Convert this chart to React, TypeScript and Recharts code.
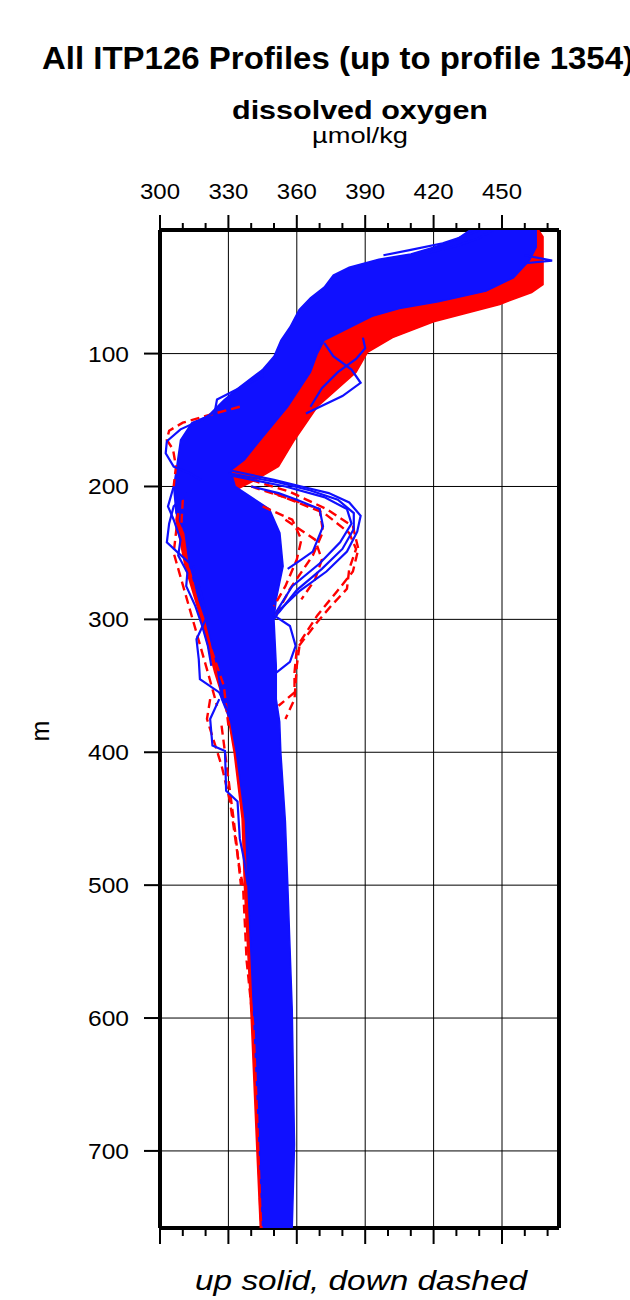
import { ScatterChart, Scatter, XAxis, YAxis, ReferenceLine } from 'recharts'

// every profile point is [depth m, dissolved oxygen µmol/kg]
type Pair = [number, number]

const FONT = '"Liberation Sans", Arial, Helvetica, sans-serif'
const BLUE = '#1010ff'
const RED = '#ff0000'

const xDomain = [300, 475]
const yDomain = [7, 758]
const xTicks = [300, 310, 320, 330, 340, 350, 360, 370, 380, 390, 400, 410, 420, 430, 440, 450, 460, 470]
const xMajor = [300, 330, 360, 390, 420, 450]
const yTicks = [100, 200, 300, 400, 500, 600, 700]

// envelopes of the dense bundles
const upLeft: Pair[] = [
  [7, 436], [14, 430], [20, 420], [25, 410], [29, 396], [35, 383], [41, 376], [50, 372], [58, 366],
  [67, 361], [80, 357], [90, 353], [102, 350], [112, 345], [125, 335], [135, 328], [147, 321],
  [152, 314], [165, 309], [189, 307], [200, 306], [220, 307], [235, 311], [260, 313], [285, 317],
  [300, 320], [335, 325], [360, 327], [377, 331], [400, 333.5], [452, 337.5], [497, 338.5],
  [594, 341], [695, 343.5], [758, 345],
]
const upRight: Pair[] = [
  [7, 465], [20, 465], [30, 462], [43, 455], [53, 443], [61, 422], [66, 405], [72, 393], [78, 386],
  [90, 372], [100, 369], [114, 366], [140, 356], [165, 344], [180, 337], [188, 331], [200, 333],
  [217, 348], [235, 352.6], [260, 354], [285, 351], [300, 350], [335, 351], [360, 351], [377, 352.5],
  [400, 353], [452, 355], [497, 356], [594, 358], [695, 359], [758, 358],
]
const downLeft: Pair[] = [
  [7, 450], [30, 430], [50, 400], [70, 380], [100, 362], [130, 345], [150, 330], [170, 320],
  [190, 312], [200, 309], [225, 307], [260, 311], [300, 318], [340, 324], [370, 329.5], [400, 332.5],
  [450, 336], [500, 337], [600, 340], [700, 342.5], [758, 344],
]
const downRight: Pair[] = [
  [7, 466], [12, 468], [48, 468], [54, 463], [63, 449], [76, 420], [88, 402], [99, 391], [114, 386],
  [140, 369], [165, 359], [185, 352], [195, 342], [202, 334], [220, 345], [240, 350], [300, 348],
  [400, 352], [500, 355], [600, 357], [700, 358], [758, 357],
]

// single up (solid) profiles that stray from the bundle
const upBulgeA: Pair[] = [
  [188, 331], [195, 350], [200, 362], [205, 374], [212, 383], [222, 388], [234, 386.5], [249, 382],
  [264, 373], [279, 361], [292, 353], [300, 350],
]
const upBulgeB: Pair[] = [
  [190, 330], [197, 352], [203, 366], [210, 378], [220, 385], [232, 385], [247, 380], [262, 371],
  [278, 360], [295, 352],
]
const upBulgeC: Pair[] = [
  [192, 332], [200, 355], [208, 372], [217, 382], [228, 384], [242, 379], [258, 370], [275, 358],
  [297, 350], [305, 357], [320, 359.5], [332, 357], [340, 351],
]
const upBulgeD: Pair[] = [
  [200, 340], [205, 352], [210, 360], [217, 370], [230, 371.5], [249, 367], [255, 362], [262, 356],
]
const upLeftLoop: Pair[] = [
  [205, 312], [215, 306], [228, 304], [242, 303], [250, 308], [260, 314.5], [280, 318], [298, 320.6],
  [315, 316], [330, 317], [345, 317.5], [355, 326], [370, 330],
]
const upLeftDeep: Pair[] = [
  [360, 326], [375, 322], [395, 323], [399, 328.5], [429, 329], [437, 334], [465, 335], [482, 337],
  [500, 338.5],
]
const upUpperLoop: Pair[] = [
  [112, 345], [117, 345], [125, 336], [134.5, 325], [144, 324], [150, 318], [157, 309], [166, 303],
  [175, 302.5], [185, 306], [190, 313], [195, 318],
]
const upEdge: Pair[] = [
  [200, 306], [215, 303.5], [225, 306], [240, 309], [252, 308], [265, 312], [275, 311.5], [290, 315.5],
  [305, 318.5], [320, 321], [335, 322.5],
]
const upSpike: Pair[] = [[26, 460], [30, 472], [32, 460]]
const upWispA: Pair[] = [[7, 440], [12, 433], [17, 424], [22, 410], [26, 398]]
const upWispB: Pair[] = [[7, 446], [13, 440], [19, 430], [24, 418]]
const upNetA: Pair[] = [[88, 389], [96, 390], [104, 386], [114, 378], [126, 371], [140, 366]]
const upNetB: Pair[] = [[92, 372], [102, 376], [112, 384], [122, 388], [132, 380], [145, 364]]

// single down (dashed) profiles
const downBulgeA: Pair[] = [
  [192, 334], [204, 357], [217, 373], [230, 384.6], [247, 387], [264, 384.6], [279, 377.6], [297, 369],
  [317, 361.4], [335, 360], [360, 359], [375, 355],
]
const downBulgeB: Pair[] = [[200, 340], [210, 358], [217, 370], [234, 371.5], [252, 367], [277, 357], [300, 350]]
const downBulgeC: Pair[] = [
  [205, 350], [220, 372], [235, 383], [247, 386], [262, 383], [277, 382], [290, 375], [302, 369],
  [322, 360], [340, 359], [355, 359], [365, 352],
]
const downBulgeD: Pair[] = [[215, 345], [225, 358], [240, 362], [255, 360], [275, 355], [290, 350]]
const downBulgeE: Pair[] = [[225, 355], [240, 368], [255, 371], [270, 368], [285, 362]]
const downUpperLeft: Pair[] = [
  [140, 335], [146, 322], [152, 310], [158, 304], [165, 303], [172, 305.7], [185, 307], [200, 306],
]
const downLeftA: Pair[] = [[220, 308], [250, 306], [280, 311], [310, 316], [340, 321], [365, 325]]
const downLeftB: Pair[] = [[210, 310], [240, 309], [270, 314], [300, 318], [330, 324], [350, 328], [380, 330]]
const downLeftC: Pair[] = [[380, 327], [420, 330], [460, 333], [500, 335.5]]
const downLeftDeep: Pair[] = [
  [360, 322], [375, 320.6], [410, 327], [437, 330.7], [489, 335], [500, 336.4], [557, 338], [607, 341],
  [669, 342.5], [744, 344], [758, 344.5],
]

const toPts = (p: Pair[]) => p.map(([d, v]) => ({ x: v, y: d }))
const band = (left: Pair[], right: Pair[]) => toPts([...left, ...[...right].reverse()])

const upOutliers = [
  upBulgeA, upBulgeB, upBulgeC, upBulgeD, upLeftLoop, upLeftDeep, upUpperLoop, upEdge, upSpike,
  upWispA, upWispB, upNetA, upNetB,
]
const downOutliers = [
  downBulgeA, downBulgeB, downBulgeC, downBulgeD, downBulgeE, downUpperLeft, downLeftA, downLeftB,
  downLeftC, downLeftDeep,
]

const noDot = () => <g />

function TopTick(props: any) {
  const { x, y, payload } = props
  const major = xMajor.includes(payload.value)
  return (
    <g>
      <line x1={x} x2={x} y1={y} y2={y - (major ? 15 : 7)} stroke="#000" strokeWidth={2} />
      {major && (
        <text x={x} y={y - 31.5} textAnchor="middle" fontSize={22} fontFamily={FONT} fill="#000"
          textLength={40} lengthAdjust="spacingAndGlyphs">
          {payload.value}
        </text>
      )}
    </g>
  )
}

function BottomTick(props: any) {
  const { x, y, payload } = props
  const major = xMajor.includes(payload.value)
  return <line x1={x} x2={x} y1={y} y2={y + (major ? 16 : 8)} stroke="#000" strokeWidth={2} />
}

function LeftTick(props: any) {
  const { x, y, payload } = props
  return (
    <text x={x} y={y} dy="0.36em" textAnchor="end" fontSize={22} fontFamily={FONT} fill="#000"
      textLength={41} lengthAdjust="spacingAndGlyphs">
      {payload.value}
    </text>
  )
}

const axisLine = { stroke: '#000', strokeWidth: 4 }
const tickLine = { stroke: '#000', strokeWidth: 2 }

export default function App() {
  return (
    <div style={{ position: 'relative', width: 630, height: 1300, background: '#fff' }}>
      <style>{'body{margin:0}'}</style>
      <ScatterChart width={630} height={1300} margin={{ top: 180, right: 41, bottom: 42, left: 80 }}>
        <XAxis xAxisId="top" orientation="top" type="number" dataKey="x" domain={xDomain} ticks={xTicks}
          interval={0} allowDataOverflow height={50} tickSize={0} tickMargin={0} tickLine={false}
          axisLine={axisLine} tick={<TopTick />} />
        <XAxis xAxisId="bottom" orientation="bottom" type="number" dataKey="x" domain={xDomain} ticks={xTicks}
          interval={0} allowDataOverflow height={30} tickSize={0} tickMargin={0} tickLine={false}
          axisLine={axisLine} tick={<BottomTick />} />
        <YAxis yAxisId="left" orientation="left" type="number" dataKey="y" domain={yDomain} ticks={yTicks}
          interval={0} reversed allowDataOverflow width={80} tickSize={16} tickMargin={15}
          axisLine={axisLine} tickLine={tickLine} tick={<LeftTick />} />
        <YAxis yAxisId="right" orientation="right" type="number" dataKey="y" domain={yDomain} ticks={yTicks}
          interval={0} reversed allowDataOverflow width={30} tickSize={16}
          axisLine={axisLine} tickLine={tickLine} tick={false} />

        {xMajor.slice(1).map(v => (
          <ReferenceLine key={'gx' + v} xAxisId="top" yAxisId="left" x={v} stroke="#000" strokeWidth={1} />
        ))}
        {yTicks.map(v => (
          <ReferenceLine key={'gy' + v} xAxisId="top" yAxisId="left" y={v} stroke="#000" strokeWidth={1} />
        ))}

        <Scatter xAxisId="top" yAxisId="left" data={band(downLeft, downRight)} shape={noDot}
          line={{ stroke: RED, strokeWidth: 1.5, fill: RED }} lineType="joint" isAnimationActive={false} />
        <Scatter xAxisId="top" yAxisId="left" data={band(upLeft, upRight)} shape={noDot}
          line={{ stroke: BLUE, strokeWidth: 1.5, fill: BLUE }} lineType="joint" isAnimationActive={false} />
        {downOutliers.map((p, i) => (
          <Scatter key={'d' + i} xAxisId="top" yAxisId="left" data={toPts(p)} shape={noDot}
            line={{ stroke: RED, strokeWidth: 2.4, strokeDasharray: '9 5' }} lineType="joint"
            isAnimationActive={false} />
        ))}
        {upOutliers.map((p, i) => (
          <Scatter key={'u' + i} xAxisId="top" yAxisId="left" data={toPts(p)} shape={noDot}
            line={{ stroke: BLUE, strokeWidth: 2.2 }} lineType="joint" isAnimationActive={false} />
        ))}
      </ScatterChart>

      <svg width={630} height={1300} style={{ position: 'absolute', left: 0, top: 0, pointerEvents: 'none' }}
        fontFamily={FONT}>
        <text x={42} y={69} fontSize={31} fontWeight="bold" textLength={592} lengthAdjust="spacingAndGlyphs">
          All ITP126 Profiles (up to profile 1354)
        </text>
        <text x={360} y={119} fontSize={25} fontWeight="bold" textAnchor="middle" textLength={256}
          lengthAdjust="spacingAndGlyphs">
          dissolved oxygen
        </text>
        <text x={360} y={143} fontSize={22} textAnchor="middle" textLength={96} lengthAdjust="spacingAndGlyphs">
          µmol/kg
        </text>
        <text x={0} y={0} fontSize={25} textAnchor="middle" transform="translate(49 731) rotate(-90)">
          m
        </text>
        <text x={361} y={1290} fontSize={27} fontStyle="italic" textAnchor="middle" textLength={332}
          lengthAdjust="spacingAndGlyphs">
          up solid, down dashed
        </text>
      </svg>
    </div>
  )
}
